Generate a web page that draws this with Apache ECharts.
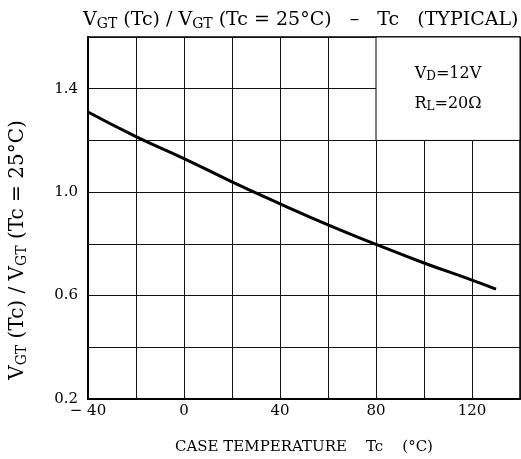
<!DOCTYPE html>
<html>
<head>
<meta charset="utf-8">
<script src="https://cdn.jsdelivr.net/npm/echarts@6/dist/echarts.min.js"></script>
<style>
  html, body { margin: 0; padding: 0; background: #fff; }
  #main { width: 521px; height: 459px; }
</style>
</head>
<body>
<div id="main"></div>
<script>
// case temperature (°C) and normalized VGT
var temps = [-40, -20, 0, 20, 40, 60, 80, 100, 120, 130];
var ratio = [1.31, 1.215, 1.13, 1.04, 0.955, 0.873, 0.798, 0.726, 0.66, 0.625];
var xLabels = [-40, 0, 40, 80, 120];
var yLabels = [0.2, 0.6, 1.0, 1.4];

var FONT = 'DejaVu Serif';
var chart = echarts.init(document.getElementById('main'));

var data = [];
for (var i = 0; i < temps.length; i++) {
  data.push([temps[i], ratio[i]]);
}

function richSet(big, small, drop) {
  return {
    n: { fontFamily: FONT, fontSize: big, color: '#000' },
    s: { fontFamily: FONT, fontSize: small, color: '#000', padding: [drop, 0, 0, 0] }
  };
}

var option = {
  backgroundColor: '#fff',
  animation: false,
  title: {
    left: 78,
    top: 4,
    text: '{n|V}{s|GT}{n| (Tc) / V}{s|GT}{n| (Tc = 25°C)   –   Tc   (TYPICAL)}',
    textStyle: { fontWeight: 'normal', rich: richSet(19, 14, 8) }
  },
  // y-axis name sits below the plot centre in the original, so it is a graphic
  graphic: [{
    type: 'text',
    x: 18,
    y: 250,
    rotation: Math.PI / 2,
    style: {
      text: '{n|V}{s|GT}{n| (Tc) / V}{s|GT}{n| (Tc = 25°C)}',
      align: 'center',
      verticalAlign: 'middle',
      rich: richSet(20, 14, 8)
    }
  }],
  grid: {
    left: 88, right: 1, top: 37, bottom: 60,
    outerBoundsMode: 'none',
    show: true, borderColor: '#000', borderWidth: 1.5
  },
  xAxis: {
    type: 'value',
    min: -40, max: 140, interval: 20,
    name: 'CASE TEMPERATURE    Tc    (°C)',
    nameLocation: 'middle',
    nameGap: 41,
    nameTextStyle: { fontFamily: FONT, fontSize: 15, color: '#000' },
    axisLine: { onZero: false, lineStyle: { color: '#000', width: 2 } },
    axisTick: { show: false },
    splitLine: { lineStyle: { color: '#111', width: 1 } },
    axisLabel: {
      fontFamily: FONT, fontSize: 15, color: '#000', margin: 5,
      formatter: function (v) {
        if (xLabels.indexOf(v) < 0) return '';
        return v < 0 ? '− ' + Math.abs(v) : '' + v;
      }
    }
  },
  yAxis: {
    type: 'value',
    min: 0.2, max: 1.6, interval: 0.2,
    axisLine: { onZero: false, lineStyle: { color: '#000', width: 2 } },
    axisTick: { show: false },
    splitLine: { lineStyle: { color: '#111', width: 1 } },
    axisLabel: {
      fontFamily: FONT, fontSize: 15, color: '#000', margin: 10,
      formatter: function (v) {
        var r = Math.round(v * 10) / 10;
        return yLabels.indexOf(r) >= 0 ? r.toFixed(1) : '';
      }
    }
  },
  series: [{
    type: 'line',
    data: data,
    smooth: true,
    symbol: 'none',
    lineStyle: { color: '#000', width: 3 },
    z: 5,
    markArea: {
      silent: true,
      itemStyle: { color: '#fff', borderColor: '#000', borderWidth: 1 },
      label: {
        show: true,
        position: 'inside',
        lineHeight: 30,
        formatter: '{n|V}{s|D}{n|=12V}\n{n|R}{s|L}{n|=20Ω}',
        rich: richSet(16, 12, 6)
      },
      data: [[{ coord: [80, 1.6] }, { coord: [140, 1.2] }]]
    }
  }]
};

chart.setOption(option);
</script>
</body>
</html>
